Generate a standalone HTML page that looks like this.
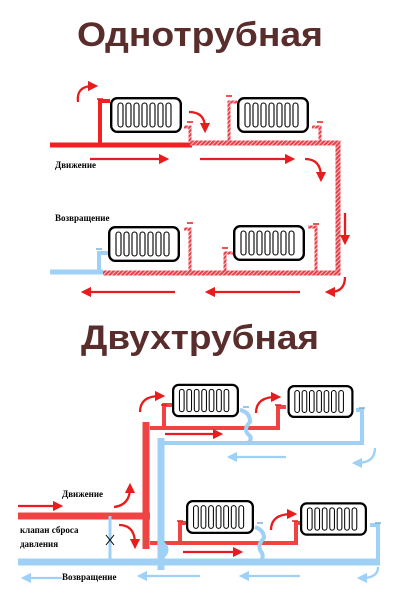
<!DOCTYPE html>
<html><head><meta charset="utf-8"><style>
html,body{margin:0;padding:0;background:#fff}
svg{display:block}
.t{font-family:"Liberation Sans",sans-serif;font-weight:bold;fill:#5a2d2d}
.l{font-family:"Liberation Serif",serif;font-weight:bold;font-size:9px;fill:#000}
</style></head><body>
<svg width="400" height="603" viewBox="0 0 400 603" xmlns="http://www.w3.org/2000/svg">
<defs>
<pattern id="h" width="3" height="3" patternUnits="userSpaceOnUse" patternTransform="rotate(45)">
<rect width="3" height="3" fill="#e8404a"/><rect width="1" height="3" fill="#f7c0c4"/></pattern>
<symbol id="rad" viewBox="0 0 72 36" width="72" height="36">
<rect x="1.2" y="1.2" width="69.6" height="33.6" rx="6" fill="#fff" stroke="#000" stroke-width="2.4"/>
<g fill="none" stroke="#000" stroke-width="1.1">
<rect x="8" y="6" width="5" height="24" rx="2.5"/><rect x="16" y="6" width="5" height="24" rx="2.5"/>
<rect x="24" y="6" width="5" height="24" rx="2.5"/><rect x="32" y="6" width="5" height="24" rx="2.5"/>
<rect x="40" y="6" width="5" height="24" rx="2.5"/><rect x="48" y="6" width="5" height="24" rx="2.5"/>
<rect x="56" y="6" width="5" height="24" rx="2.5"/></g>
</symbol>
<marker id="ar" viewBox="0 0 10 10" refX="5" refY="5" markerWidth="4.5" markerHeight="4.5" orient="auto"><path d="M0,0L10,5L0,10z" fill="#e81c1c"/></marker>
<marker id="ab" viewBox="0 0 10 10" refX="5" refY="5" markerWidth="4.5" markerHeight="4.5" orient="auto"><path d="M0,0L10,5L0,10z" fill="#9fd0f5"/></marker>
</defs>
<text class="t" x="200" y="46" font-size="34" text-anchor="middle" textLength="246" lengthAdjust="spacingAndGlyphs">Однотрубная</text>
<text class="t" x="200" y="349" font-size="34" text-anchor="middle" textLength="238" lengthAdjust="spacingAndGlyphs">Двухтрубная</text>

<g fill="none" stroke-linecap="butt">
<path d="M50,145H192" stroke="#ee2222" stroke-width="5"/>
<path d="M100,145V101H110" stroke="#ee2222" stroke-width="4"/>
<path d="M190,143H338V273H103" stroke="url(#h)" stroke-width="5"/>
<path d="M190,143V127H184" stroke="url(#h)" stroke-width="3"/>
<path d="M229,143V102H237" stroke="url(#h)" stroke-width="3"/>
<path d="M320,143V127H312" stroke="url(#h)" stroke-width="3"/>
<path d="M190,273V229H184" stroke="url(#h)" stroke-width="3"/>
<path d="M225,273V253H233" stroke="url(#h)" stroke-width="3"/>
<path d="M316,273V227H308" stroke="url(#h)" stroke-width="3"/>
<path d="M50,272H103" stroke="#9fd0f5" stroke-width="5"/>
<path d="M99,272V253H108" stroke="#9fd0f5" stroke-width="4"/>
</g>
<g stroke="#e81c1c" stroke-width="1.5">
<path d="M97,99h6M187,122h6M226,96h6M317,122h6M187,223h6M222,248h6M313,224h6"/>
</g>
<path d="M96,249h6" stroke="#7fb0d5" stroke-width="1.5"/>
<use href="#rad" x="110" y="97"/><use href="#rad" x="237" y="97"/>
<use href="#rad" x="108" y="226"/><use href="#rad" x="233" y="225"/>
<g fill="none" stroke="#e81c1c" stroke-width="2.3">
<path d="M78,102Q76,86 93,86" marker-end="url(#ar)"/>
<path d="M189,112Q205,112 205,128" marker-end="url(#ar)"/>
<path d="M90,159H164" marker-end="url(#ar)"/>
<path d="M200,159H290" marker-end="url(#ar)"/>
<path d="M305,159Q321,159 321,177" marker-end="url(#ar)"/>
<path d="M345,213V240" marker-end="url(#ar)"/>
<path d="M175,292H86" marker-end="url(#ar)"/>
<path d="M300,292H210" marker-end="url(#ar)"/>
<path d="M345,277Q345,292 330,292" marker-end="url(#ar)"/>
</g>
<text class="l" x="55" y="168">Движение</text>
<text class="l" x="55" y="221">Возвращение</text>

<g fill="none">
<path d="M18,516H150" stroke="#f04444" stroke-width="7"/>
<path d="M146,422V549" stroke="#f04444" stroke-width="7"/>
<path d="M150,428H278V407H286" stroke="#f04444" stroke-width="4"/>
<path d="M164,428V405H172" stroke="#f04444" stroke-width="4"/>
<path d="M150,543H296V523H301" stroke="#f04444" stroke-width="4"/>
<path d="M180,543V523H186" stroke="#f04444" stroke-width="4"/>
<path d="M18,562H380" stroke="#9fd0f5" stroke-width="7"/>
<path d="M161,438V570" stroke="#9fd0f5" stroke-width="7"/>
<path d="M161,443H362V410H356" stroke="#9fd0f5" stroke-width="4"/>
<path d="M240,410Q250,412 250,422Q242,430 250,436Q252,440 248,443" stroke="#9fd0f5" stroke-width="4"/>
<path d="M161,543Q170,548 163,556" stroke="#9fd0f5" stroke-width="5"/>
<path d="M378,562V525H370" stroke="#9fd0f5" stroke-width="4"/>
<path d="M255,527Q264,530 264,538Q256,546 262,553Q264,558 260,562" stroke="#9fd0f5" stroke-width="4"/>
<path d="M110,516V562" stroke="#9fd0f5" stroke-width="3"/>
</g>
<path d="M106,535l8,10M114,535l-8,10" stroke="#000" stroke-width="1"/>
<g stroke="#e81c1c" stroke-width="1.5"><path d="M161,405h6M275,405h6M177,521h6M292,521h6"/></g>
<g stroke="#7fb0d5" stroke-width="1.5"><path d="M243,407h6M359,408h6M257,523h6M375,523h6"/></g>
<use href="#rad" x="172" y="383" width="67" height="35"/>
<use href="#rad" x="287" y="385" width="67" height="33"/>
<use href="#rad" x="186" y="500" width="68" height="34"/>
<use href="#rad" x="300" y="502" width="67" height="34"/>
<g fill="none" stroke="#e81c1c" stroke-width="2.3">
<path d="M18,506H58" marker-end="url(#ar)"/>
<path d="M114,507Q130,505 130,488" marker-end="url(#ar)"/>
<path d="M119,525Q135,525 135,544" marker-end="url(#ar)"/>
<path d="M140,412Q140,396 160,396" marker-end="url(#ar)"/>
<path d="M256,413Q256,397 276,397" marker-end="url(#ar)"/>
<path d="M271,530Q271,514 292,514" marker-end="url(#ar)"/>
<path d="M165,434H218" marker-end="url(#ar)"/>
<path d="M183,552H238" marker-end="url(#ar)"/>
</g>
<g fill="none" stroke="#9fd0f5" stroke-width="2.3">
<path d="M286,457H232" marker-end="url(#ab)"/>
<path d="M375,448Q375,463 357,463" marker-end="url(#ab)"/>
<path d="M62,578H26" marker-end="url(#ab)"/>
<path d="M200,576H142" marker-end="url(#ab)"/>
<path d="M300,576H244" marker-end="url(#ab)"/>
<path d="M378,567Q378,578 362,578" marker-end="url(#ab)"/>
</g>
<text class="l" x="62" y="497">Движение</text>
<text class="l" x="20" y="533">клапан сброса</text>
<text class="l" x="20" y="547">давления</text>
<text class="l" x="62" y="580">Возвращение</text>
</svg>
</body></html>
